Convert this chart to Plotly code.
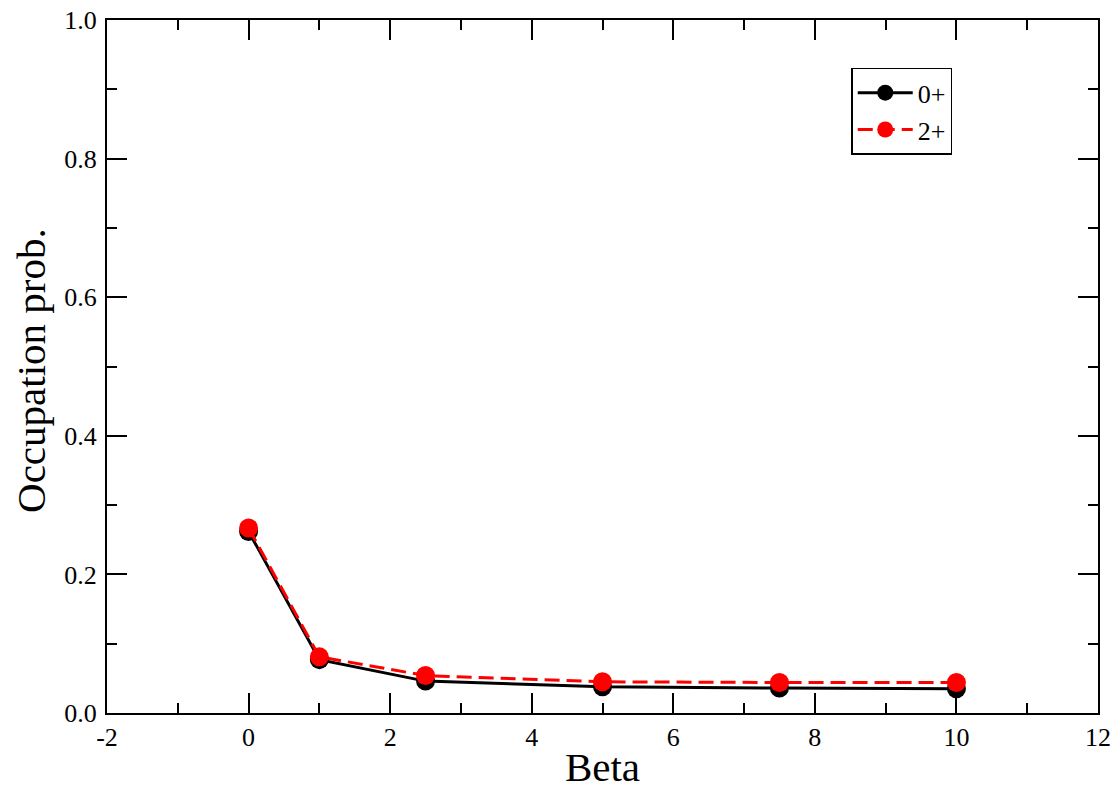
import plotly.graph_objects as go

beta = [0, 1, 2.5, 5, 7.5, 10]
occ_0plus = [0.262, 0.077, 0.046, 0.038, 0.036, 0.035]
occ_2plus = [0.267, 0.081, 0.054, 0.045, 0.044, 0.044]
x_ticks = [-2, 0, 2, 4, 6, 8, 10, 12]
x_ticklabels = ["-2", "0", "2", "4", "6", "8", "10", "12"]
y_ticks = [0.0, 0.2, 0.4, 0.6, 0.8, 1.0]
y_ticklabels = ["0.0", "0.2", "0.4", "0.6", "0.8", "1.0"]

SERIF = "Liberation Serif"

fig = go.Figure()
fig.add_trace(go.Scatter(x=beta, y=occ_0plus, name="0+", mode="lines+markers",
                         line=dict(color="black", width=3),
                         marker=dict(color="black", size=19)))
fig.add_trace(go.Scatter(x=beta, y=occ_2plus, name="2+", mode="lines+markers",
                         line=dict(color="red", width=3, dash="15px,7px"),
                         marker=dict(color="red", size=19)))

def axis_common():
    return dict(showline=True, linecolor="black", linewidth=2, mirror="ticks",
                ticks="inside", ticklen=20, tickwidth=1.5, tickcolor="black",
                showgrid=False, zeroline=False, automargin=False,
                tickfont=dict(family=SERIF, size=26, color="black"))

fig.update_xaxes(range=[-2, 12], tickmode="array", tickvals=x_ticks, ticktext=x_ticklabels,
                 minor=dict(dtick=1, tick0=0, ticks="inside", ticklen=10, tickwidth=1.5, tickcolor="black"),
                 title=dict(text="Beta", font=dict(family=SERIF, size=41, color="black"),
                            standoff=12),
                 **axis_common())
fig.update_yaxes(range=[0, 1], tickmode="array", tickvals=y_ticks, ticktext=y_ticklabels,
                 minor=dict(dtick=0.1, tick0=0, ticks="inside", ticklen=10, tickwidth=1.5, tickcolor="black"),
                 ticklabelstandoff=3,
                 **axis_common())

fig.add_annotation(text="Occupation prob.", xref="paper", yref="paper",
                   x=-0.0767, y=0.495, xanchor="center", yanchor="middle",
                   textangle=-90, showarrow=False,
                   font=dict(family=SERIF, size=41, color="black"))

fig.update_layout(width=1115, height=790,
                  font=dict(family=SERIF, color="black"),
                  margin=dict(l=107, r=17, t=20, b=77),
                  plot_bgcolor="white", paper_bgcolor="white",
                  legend=dict(x=0.751, y=0.931, xanchor="left", yanchor="top",
                              bordercolor="black", borderwidth=1.5, bgcolor="white",
                              font=dict(family=SERIF, size=26, color="black"),
                              tracegroupgap=0, itemwidth=55))

fig.write_html("out.html", config={"displayModeBar": False},
               post_script="document.body.style.margin='0';document.body.style.padding='0';")
